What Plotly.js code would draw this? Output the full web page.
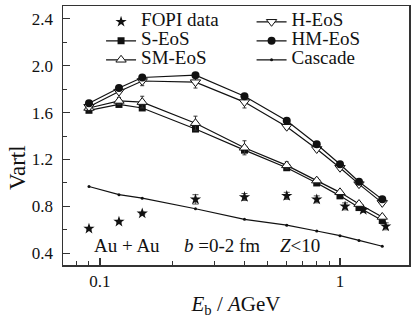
<!DOCTYPE html>
<html><head><meta charset="utf-8">
<script src="https://cdn.plot.ly/plotly-3.0.1.min.js"></script>
<style>body{margin:0;background:#fff}#chart{width:413px;height:322px}</style>
</head><body><div id="chart"></div>
<script>
const energy = [0.09, 0.12, 0.15, 0.25, 0.4, 0.6, 0.8, 1.0, 1.2, 1.5];
const fopiEnergy = [0.09, 0.12, 0.15, 0.25, 0.4, 0.6, 0.8, 1.05, 1.25, 1.55];
const fopi = [0.61, 0.67, 0.74, 0.86, 0.88, 0.89, 0.86, 0.80, 0.77, 0.63];
const fopiErr = [0.01, 0.01, 0.01, 0.04, 0.03, 0.03, 0.03, 0.03, 0.02, 0.03];
const sEos = [1.62, 1.67, 1.64, 1.46, 1.28, 1.13, 1.00, 0.89, 0.79, 0.68];
const smEos = [1.64, 1.70, 1.69, 1.51, 1.30, 1.15, 1.02, 0.92, 0.82, 0.71];
const smErr = [0, 0.03, 0.05, 0.06, 0.06, 0.03, 0.02, 0, 0, 0];
const hEos = [1.65, 1.78, 1.87, 1.86, 1.69, 1.48, 1.29, 1.13, 0.99, 0.83];
const hErr = [0, 0, 0.04, 0.05, 0.05, 0.02, 0, 0, 0, 0];
const hmEos = [1.68, 1.81, 1.90, 1.92, 1.74, 1.53, 1.33, 1.16, 1.01, 0.86];
const cascade = [0.97, 0.90, 0.87, 0.78, 0.69, 0.64, 0.59, 0.55, 0.51, 0.46];
const yTicks = [0.4, 0.8, 1.2, 1.6, 2.0, 2.4];
const xTicks = [0.1, 1];
const xTickText = ['0.1', '1'];
const xMinor = [0.08, 0.09, 0.2, 0.3, 0.4, 0.5, 0.6, 0.7, 0.8, 0.9];

const FONT = 'Liberation Serif';
const lbl = s => '<span style="font-size:19px">' + s + '</span>';

const traces = [
  {x: fopiEnergy, y: fopi, name: lbl('FOPI data'), legend: 'legend', mode: 'markers',
   error_y: {type: 'data', array: fopiErr, color: '#555', thickness: 1, width: 3},
   marker: {symbol: 'star', size: 8.5, color: '#111'}},
  {x: energy, y: sEos, name: lbl('S-EoS'), legend: 'legend', mode: 'lines+markers',
   line: {color: '#111', width: 1.2}, marker: {symbol: 'square', size: 7, color: '#111'}},
  {x: energy, y: smEos, name: lbl('SM-EoS'), legend: 'legend', mode: 'lines+markers',
   error_y: {type: 'data', array: smErr, color: '#333', thickness: 1, width: 2},
   line: {color: '#111', width: 1.2}, marker: {symbol: 'triangle-up', size: 9, color: '#fff', line: {color: '#111', width: 1}}},
  {x: energy, y: hEos, name: lbl('H-EoS'), legend: 'legend2', mode: 'lines+markers',
   error_y: {type: 'data', array: hErr, color: '#333', thickness: 1, width: 2},
   line: {color: '#111', width: 1.2}, marker: {symbol: 'triangle-down', size: 9, color: '#fff', line: {color: '#111', width: 1}}},
  {x: energy, y: hmEos, name: lbl('HM-EoS'), legend: 'legend2', mode: 'lines+markers',
   line: {color: '#111', width: 1.2}, marker: {symbol: 'circle', size: 8, color: '#111'}},
  {x: energy, y: cascade, name: lbl('Cascade'), legend: 'legend2', mode: 'lines+markers',
   line: {color: '#111', width: 1.2}, marker: {symbol: 'circle', size: 3, color: '#111'}}
];

const legendBase = {font: {family: FONT, size: 10, color: '#111'}, bgcolor: 'rgba(0,0,0,0)',
  xanchor: 'left', yanchor: 'top', traceorder: 'normal', itemclick: false};

const layout = {
  width: 413, height: 322,
  margin: {l: 63, r: 4, t: 6, b: 57},
  paper_bgcolor: '#fff', plot_bgcolor: '#fff',
  font: {family: FONT, size: 17, color: '#111'},
  showlegend: true,
  legend: Object.assign({}, legendBase, {x: 0.11, y: 0.995}),
  legend2: Object.assign({}, legendBase, {x: 0.545, y: 0.995}),
  xaxis: {
    type: 'log', range: [-1.154, 0.2875],
    tickmode: 'array', tickvals: xTicks, ticktext: xTickText,
    ticks: 'inside', ticklen: 7, tickwidth: 1.2, tickcolor: '#333',
    minor: {tickmode: 'array', tickvals: xMinor, ticks: 'inside', ticklen: 4, tickwidth: 1, tickcolor: '#333'},
    showline: true, linecolor: '#333', linewidth: 1.5, mirror: true,
    showgrid: false, zeroline: false,
    tickfont: {family: FONT, size: 17},
    ticklabelstandoff: 0,
    title: {text: '<i>E</i><sub>b</sub> / <i>A</i>GeV', font: {family: FONT, size: 21}, standoff: 6}
  },
  yaxis: {
    range: [0.3, 2.51],
    tickmode: 'array', tickvals: yTicks, ticktext: yTicks.map(v => v.toFixed(1)),
    ticks: 'inside', ticklen: 7, tickwidth: 1.2, tickcolor: '#333',
    minor: {tickmode: 'linear', tick0: 0.2, dtick: 0.2, ticks: 'inside', ticklen: 4, tickwidth: 1, tickcolor: '#333'},
    showline: true, linecolor: '#333', linewidth: 1.5, mirror: true,
    showgrid: false, zeroline: false,
    tickfont: {family: FONT, size: 17},
    ticklabelstandoff: 5
  },
  annotations: [
    {text: 'Vartl', xref: 'paper', yref: 'paper', x: -0.133, y: 0.378, textangle: -90, showarrow: false,
     font: {family: FONT, size: 23}, xanchor: 'center', yanchor: 'middle'},
    {text: 'Au + Au', xref: 'paper', yref: 'paper', x: 0.186, y: 0.077, showarrow: false,
     font: {family: FONT, size: 19}, xanchor: 'center', yanchor: 'middle'},
    {text: '<i>b</i> =0-2 fm', xref: 'paper', yref: 'paper', x: 0.46, y: 0.077, showarrow: false,
     font: {family: FONT, size: 19}, xanchor: 'center', yanchor: 'middle'},
    {text: '<i>Z</i>&lt;10', xref: 'paper', yref: 'paper', x: 0.684, y: 0.077, showarrow: false,
     font: {family: FONT, size: 19}, xanchor: 'center', yanchor: 'middle'}
  ]
};

Plotly.newPlot('chart', traces, layout, {displayModeBar: false, staticPlot: true});
</script>
</body></html>
